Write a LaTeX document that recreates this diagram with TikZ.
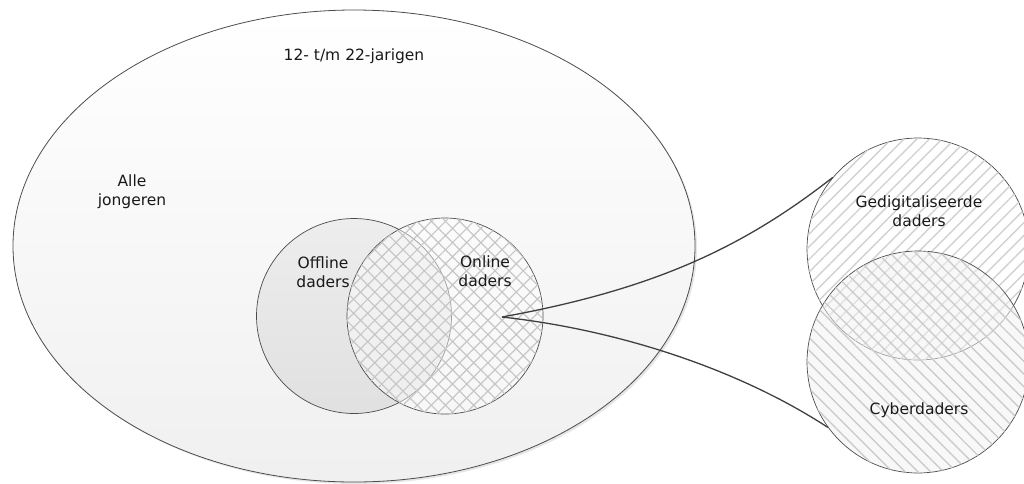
\documentclass[tikz,border=0pt]{standalone}
\usepackage{fontspec}
\setmainfont{DejaVu Sans}
\usetikzlibrary{shapes.geometric,patterns.meta,shadows}

\begin{document}
\begin{tikzpicture}[x=1pt, y=-1pt,
    group/.style={ellipse, draw=black!70, line width=0.8pt, inner sep=0pt,
        minimum width=682pt, minimum height=472pt,
        top color=white, bottom color=black!6},
    set/.style={circle, draw=black!70, line width=0.7pt, inner sep=0pt},
    tag/.style={align=center, font=\fontsize{15.5}{19}\selectfont, text=black!90},
    link/.style={draw=black!75, line width=1.3pt}
]
    \useasboundingbox (0,0) rectangle (1024,483);
    \node[group, drop shadow={opacity=0.2, shadow xshift=2pt, shadow yshift=-2pt}] (all) at (354,246) {};
    \node[set, minimum size=195pt, top color=black!7, bottom color=black!12] (offline) at (354,316) {};
    \node[set, minimum size=196pt, fill=white, fill opacity=0.45,
        postaction={fill opacity=1, pattern={Hatch[angle=45, distance=10pt, line width=1.2pt]}, pattern color=black!22}] (online) at (445,316) {};
    \node[set, minimum size=222pt, fill=white,
        postaction={pattern={Lines[angle=45, distance=9pt, line width=1.4pt]}, pattern color=black!18}] (ged) at (918,249) {};
    \node[set, minimum size=222pt, fill=black!5, fill opacity=0.5,
        postaction={fill opacity=1, pattern={Lines[angle=-45, distance=9pt, line width=1.4pt]}, pattern color=black!20}] (cyber) at (918,362) {};
    \coordinate (hub) at (502,317);
    \draw[link] (hub) .. controls (650,290) and (740,250) .. (ged.140);
    \draw[link] (hub) .. controls (620,330) and (740,370) .. (cyber.216);
    \node[tag] (toptext) at (354,56) {12- t/m 22-jarigen};
    \node[tag] (alletext) at (132,192) {Alle\\jongeren};
    \node[tag] (offtext) at (323,272) {Offline\\daders};
    \node[tag] (ontext) at (485,271) {Online\\daders};
    \node[tag] (gedtext) at (919,211) {Gedigitaliseerde\\daders};
    \node[tag] (cybtext) at (919,410) {Cyberdaders};
\end{tikzpicture}
\end{document}
